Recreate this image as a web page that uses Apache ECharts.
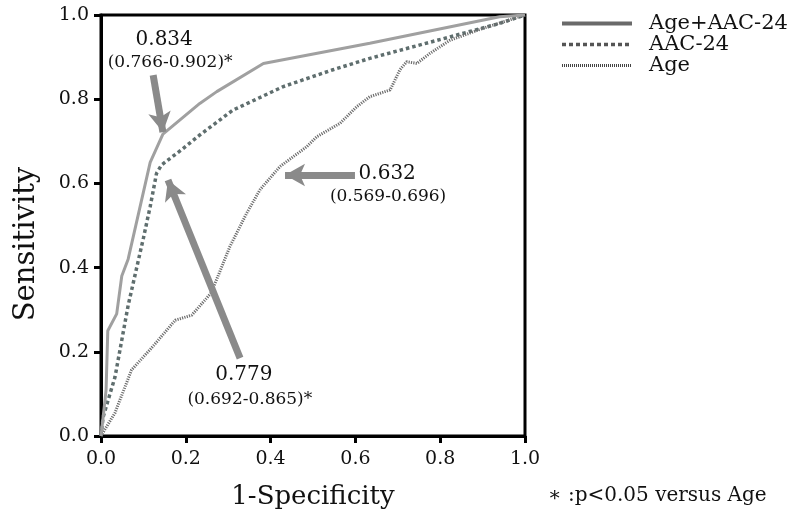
<!DOCTYPE html>
<html>
<head>
<meta charset="utf-8">
<script src="https://cdn.jsdelivr.net/npm/echarts@6/dist/echarts.min.js"></script>
<style>
html, body { margin: 0; padding: 0; background: #fff; }
#roc_chart { width: 806px; height: 512px; }
</style>
</head>
<body>
<div id="roc_chart"></div>
<script>
// ROC curves (x = 1-specificity, y = sensitivity)
var combo_fpr = [0, 0.01, 0.012, 0.016, 0.037, 0.049, 0.064, 0.116, 0.146, 0.233, 0.273, 0.383, 0.634, 0.94, 1.0];
var combo_tpr = [0, 0.09, 0.11, 0.25, 0.29, 0.38, 0.42, 0.65, 0.717, 0.79, 0.818, 0.885, 0.933, 0.996, 1.0];

var aac_fpr = [0, 0.005, 0.033, 0.064, 0.10, 0.116, 0.131, 0.143, 0.19, 0.233, 0.311, 0.43, 0.547, 0.634, 0.823, 0.94, 1.0];
var aac_tpr = [0, 0.045, 0.14, 0.31, 0.47, 0.545, 0.624, 0.644, 0.68, 0.715, 0.774, 0.83, 0.87, 0.897, 0.948, 0.98, 1.0];

var age_fpr = [0, 0.013, 0.033, 0.072, 0.12, 0.175, 0.214, 0.26, 0.304, 0.344, 0.375, 0.422, 0.485, 0.509, 0.564, 0.603, 0.634, 0.682, 0.705, 0.721, 0.745, 0.776, 0.823, 0.90, 1.0];
var age_tpr = [0, 0.022, 0.055, 0.157, 0.21, 0.275, 0.287, 0.34, 0.45, 0.53, 0.585, 0.64, 0.687, 0.711, 0.743, 0.782, 0.806, 0.822, 0.87, 0.889, 0.885, 0.909, 0.94, 0.968, 1.0];

var series_names = ['Age+AAC-24', 'AAC-24', 'Age'];

// AUC callouts: text and where it sits (data coords)
var auc_texts = ['0.834', '(0.766-0.902)*', '0.632', '(0.569-0.696)', '0.779', '(0.692-0.865)*'];
var auc_pos = [[0.149, 0.941], [0.163, 0.888], [0.675, 0.622], [0.677, 0.568], [0.337, 0.145], [0.351, 0.086]];
var auc_big = [true, false, true, false, true, false];

// arrows: [from, to] in data coords
var arrows = [
    [[0.123, 0.857], [0.146, 0.722]],
    [[0.599, 0.62], [0.434, 0.62]],
    [[0.328, 0.185], [0.158, 0.608]]
];

var SERIF = '"DejaVu Serif", "Liberation Serif", serif';
var C_COMBO = '#a0a0a0', C_AAC = '#5f6e6e', C_AGE = '#6e6e6e';

var zip = function(xs, ys) {
    return xs.map(function(x, i) { return [x, ys[i]]; });
};

var callouts = auc_texts.map(function(t, i) {
    return {
        coord: auc_pos[i],
        value: t,
        label: {
            show: true,
            position: 'inside',
            formatter: t,
            color: '#111',
            fontFamily: SERIF,
            fontSize: auc_big[i] ? 20 : 17
        }
    };
});

var arrow_lines = arrows.map(function(a) {
    return [{coord: a[0]}, {coord: a[1]}];
});

var chart = echarts.init(document.getElementById('roc_chart'));
chart.setOption({
    animation: false,
    grid: {
        left: 101, top: 15, right: 281, bottom: 76,
        show: true,
        borderColor: '#000',
        borderWidth: 3,
        containLabel: false,
        outerBoundsMode: 'none'
    },
    legend: {
        data: [
            {name: series_names[0], lineStyle: {width: 4, color: '#6a6a6a'}},
            {name: series_names[1], lineStyle: {width: 3.5, color: '#555', type: [4, 3]}},
            {name: series_names[2], lineStyle: {width: 3, color: '#444', type: [1, 1]}}
        ],
        orient: 'vertical',
        left: 555,
        top: 8,
        itemWidth: 70,
        itemHeight: 12,
        itemGap: 0,
        itemStyle: {color: 'rgba(0,0,0,0)', borderWidth: 0, opacity: 0},
        textStyle: {
            fontFamily: SERIF,
            fontSize: 21,
            lineHeight: 19,
            color: '#111',
            padding: [0, 0, 0, 12]
        }
    },
    xAxis: {
        type: 'value',
        min: 0, max: 1, interval: 0.2,
        name: '1-Specificity',
        nameLocation: 'middle',
        nameGap: 48,
        nameTextStyle: {fontFamily: SERIF, fontSize: 26, color: '#111'},
        axisLine: {lineStyle: {color: '#000', width: 3}},
        axisTick: {show: true, length: 7, lineStyle: {color: '#000', width: 3}},
        axisLabel: {
            margin: 14,
            fontFamily: SERIF, fontSize: 19, color: '#111',
            formatter: function(v) { return v.toFixed(1); }
        },
        splitLine: {show: false}
    },
    yAxis: {
        type: 'value',
        min: 0, max: 1, interval: 0.2,
        axisLine: {show: true, lineStyle: {color: '#000', width: 3}},
        axisTick: {show: true, length: 7, lineStyle: {color: '#000', width: 3}},
        axisLabel: {
            margin: 12,
            fontFamily: SERIF, fontSize: 19, color: '#111',
            formatter: function(v) { return v.toFixed(1); }
        },
        splitLine: {show: false}
    },
    graphic: [
        {
            type: 'text',
            x: 26, y: 244,
            rotation: Math.PI / 2,
            style: {
                text: 'Sensitivity',
                align: 'center',
                verticalAlign: 'middle',
                font: '29px ' + SERIF,
                fill: '#111'
            }
        },
        {
            type: 'text',
            x: 548, y: 496,
            style: {
                text: '\u2217 :p<0.05 versus Age',
                verticalAlign: 'middle',
                font: '20px ' + SERIF,
                fill: '#111'
            }
        }
    ],
    series: [
        {
            name: series_names[0],
            type: 'line',
            data: zip(combo_fpr, combo_tpr),
            symbol: 'none',
            z: 3,
            lineStyle: {color: C_COMBO, width: 3, type: 'solid'},
            itemStyle: {color: C_COMBO}
        },
        {
            name: series_names[1],
            type: 'line',
            data: zip(aac_fpr, aac_tpr),
            symbol: 'none',
            z: 2,
            lineStyle: {color: C_AAC, width: 3.5, type: [3.5, 3]},
            itemStyle: {color: C_AAC}
        },
        {
            name: series_names[2],
            type: 'line',
            data: zip(age_fpr, age_tpr),
            symbol: 'none',
            z: 2,
            lineStyle: {color: C_AGE, width: 3, type: [1.2, 1.2]},
            itemStyle: {color: C_AGE},
            markLine: {
                silent: true,
                symbol: ['none', 'arrow'],
                symbolSize: [17, 20],
                label: {show: false},
                lineStyle: {color: '#8a8a8a', width: 7, type: 'solid'},
                emphasis: {disabled: true},
                data: arrow_lines
            },
            markPoint: {
                silent: true,
                symbol: 'circle',
                symbolSize: 1,
                itemStyle: {color: 'rgba(0,0,0,0)'},
                data: callouts
            }
        }
    ]
});
</script>
</body>
</html>
